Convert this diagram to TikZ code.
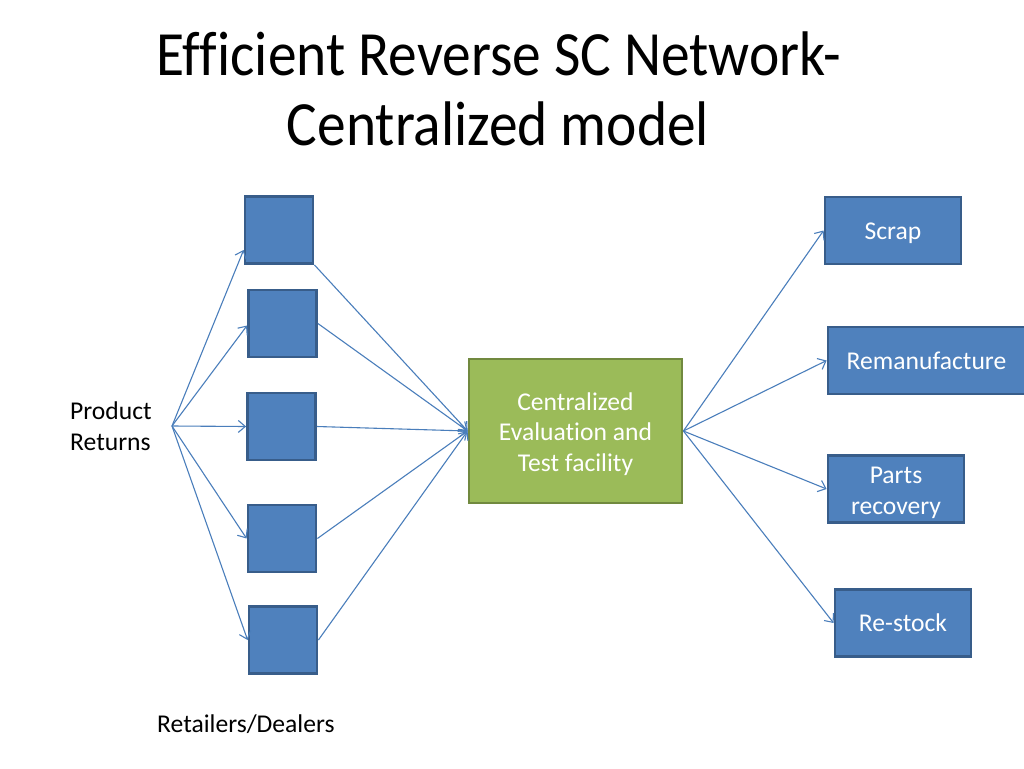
\documentclass[tikz,border=0pt]{standalone}
\usepackage{fontspec}
\setmainfont[Ligatures=NoCommon]{Carlito}
\newfontfamily\titlefont[FakeStretch=0.912,Ligatures=NoCommon]{Carlito}
\usetikzlibrary{arrows.meta}
\definecolor{boxblue}{HTML}{4F81BD}
\definecolor{boxedge}{HTML}{385D8A}
\definecolor{boxgreen}{HTML}{9BBB59}
\definecolor{greenedge}{HTML}{71893F}
\definecolor{linec}{HTML}{4A7EBB}
\begin{document}
\begin{tikzpicture}[x=1pt,y=-1pt,
  sq/.style={draw=boxedge, fill=boxblue, line width=2.8pt, minimum width=68pt, minimum height=67pt, inner sep=0pt},
  bluebox/.style={draw=boxedge, fill=boxblue, line width=2.8pt, inner sep=0pt, minimum height=67pt},
  greenbox/.style={draw=greenedge, fill=boxgreen, line width=2.8pt, inner sep=0pt, minimum width=213pt, minimum height=144pt},
  boxtext/.style={text=white, font=\fontsize{25.6}{30.7}\selectfont, align=center, inner sep=0pt},
  conn/.style={draw=linec, line width=1.1pt, -{Straight Barb[length=7pt,width=12pt]}},
  lbl/.style={font=\fontsize{25.6}{30.7}\selectfont, inner sep=0pt, align=left},
  ttl/.style={font=\titlefont\fontsize{63}{70}\selectfont, inner sep=0pt}]
\useasboundingbox (0,0) rectangle (1024,768);
\fill[white] (0,0) rectangle (1024,768);

% title
\node[ttl, anchor=base] (t1) at (499,75) {Efficient Reverse SC Network-};
\node[ttl, anchor=base] (t2) at (498,145) {Centralized model};

% retailer boxes
\node[sq] (b1) at (279,230) {};
\node[sq] (b2) at (282.5,323.5) {};
\node[sq] (b3) at (281.5,426.5) {};
\node[sq] (b4) at (282,538.5) {};
\node[sq] (b5) at (283,640) {};

% central facility
\node[greenbox] (c) at (575.5,431) {};
\node[boxtext] (ct) at ([yshift=-3pt]c.center) {Centralized\\Evaluation and\\Test facility};

% outcome boxes
\node[bluebox, minimum width=136pt] (s1) at (893,230.5) {};
\node[bluebox, minimum width=197pt] (s2) at (926.5,360.5) {};
\node[bluebox, minimum width=136pt] (s3) at (896,489) {};
\node[bluebox, minimum width=136pt] (s4) at (903,623) {};
\node[boxtext] (s1t) at ([yshift=-3pt]s1.center) {Scrap};
\node[boxtext] (s2t) at (s2.center) {Remanufacture};
\node[boxtext] (s3t) at ([yshift=-3.5pt]s3.center) {Parts\\recovery};
\node[boxtext] (s4t) at (s4.center) {Re-stock};

% labels
\node[lbl, anchor=west] (pr) at (70,426) {Product\\Returns};
\node[lbl, anchor=base west] (rd) at (157,732) {Retailers/Dealers};
\coordinate (src) at (172,426);

% connectors
\draw[conn] (src) -- ([yshift=-20pt]b1.west);
\draw[conn] (src) -- ([yshift=-2pt]b2.west);
\draw[conn] (src) -- (b3.west);
\draw[conn] (src) -- (b4.west);
\draw[conn] (src) -- (b5.west);

\draw[conn] (b1.south east) -- (c.west);
\draw[conn] (b2.east) -- (c.west);
\draw[conn] (b3.east) -- (c.west);
\draw[conn] (b4.east) -- (c.west);
\draw[conn] (b5.east) -- (c.west);

\draw[conn] (c.east) -- (s1.west);
\draw[conn] (c.east) -- (s2.west);
\draw[conn] (c.east) -- (s3.west);
\draw[conn] (c.east) -- (s4.west);
\end{tikzpicture}
\end{document}
